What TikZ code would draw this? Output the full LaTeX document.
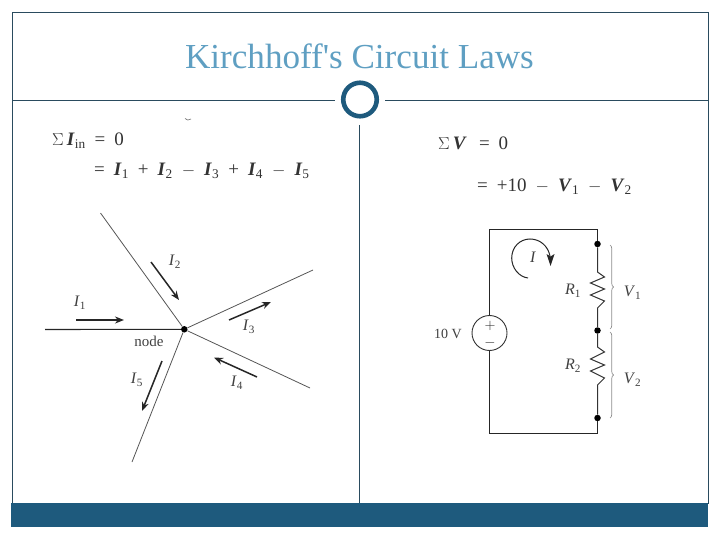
\documentclass[tikz,border=0pt]{standalone}
\usepackage{amsmath}
\usepackage{fontspec}
\setmainfont{Liberation Serif}
\usetikzlibrary{arrows.meta,decorations.pathreplacing}
\definecolor{barblue}{HTML}{1E5A7D}
\definecolor{framedark}{HTML}{2A4B5E}
\definecolor{titleblue}{HTML}{5F9FC2}
\definecolor{wiregray}{HTML}{555555}
\newcommand{\bv}[1]{\textbf{\textit{#1}}}
\newcommand{\iv}[2]{\textit{#1}\textsubscript{#2}}
\newcommand{\bsb}[2]{\textbf{\textit{#1}}\textsubscript{#2}}
\newcommand{\eqgap}{\hspace{9pt}}
\tikzset{
  x=1pt,y=-1pt,
  frameline/.style={draw=framedark,line width=0.9pt},
  wire/.style={draw=wiregray,line width=0.8pt},
  curarrow/.style={draw=black!85,line width=1.5pt,-{Stealth[length=9pt,width=7pt]}},
  junction/.style={circle,fill=black,inner sep=0pt,minimum size=6.5pt},
  lab/.style={inner sep=0pt,font=\fontsize{16}{18}\selectfont,text=black!75},
  eq/.style={inner sep=0pt,anchor=base west,font=\fontsize{19}{21}\selectfont,text=black!80},
  bracegray/.style={draw=black!45,line width=0.7pt,decorate,decoration={brace,amplitude=3.5pt}}
}
\begin{document}
\begin{tikzpicture}
\useasboundingbox (0,0) rectangle (720,540);
% frame and header
\draw[frameline] (12,12.5) rectangle (708,503);
\fill[barblue] (11,503) rectangle (708,527);
\node[inner sep=0pt,text=titleblue,font=\fontsize{35.1}{38}\selectfont] (title) at (359.5,56) {Kirchhoff\textquotesingle s Circuit Laws};
\coordinate (hl0) at (12,100); \coordinate (hl1) at (335,100);
\coordinate (hr0) at (385,100); \coordinate (hr1) at (708,100);
\draw[frameline] (hl0) -- (hl1);
\draw[frameline] (hr0) -- (hr1);
\node[circle,draw=barblue,line width=4.6pt,minimum size=33.5pt,inner sep=0pt] (ring) at (360,99.5) {};
\coordinate (div0) at (359.5,125); \coordinate (div1) at (359.5,503);
\draw[draw=framedark,line width=0.8pt] (div0) -- (div1);
% small mark
\draw[black!60,line width=0.6pt] (185,118.5) .. controls (186.5,120.5) and (189,120.5) .. (191,119);
% KCL equations
\node[eq] (kcla) at (52,146) {$\Sigma$\,\bsb{I}{in}\eqgap=\eqgap 0};
\node[eq] (kclb) at (94,176) {=\eqgap\bsb{I}{1}\eqgap+\eqgap\bsb{I}{2}\eqgap$-$\eqgap\bsb{I}{3}\eqgap+\eqgap\bsb{I}{4}\eqgap$-$\eqgap\bsb{I}{5}};
% KVL equations
\node[eq] (kvla) at (438,150) {$\Sigma$\,\bv{V}\,\eqgap=\eqgap 0};
\node[eq] (kvlb) at (477,192) {=\eqgap+10\eqgap$-$\eqgap\bsb{V}{1}\eqgap$-$\eqgap\bsb{V}{2}};
% KCL node
\node[junction] (nd) at (184.3,329.3) {};
\coordinate (w1) at (45,329.5); \coordinate (w2) at (100.5,213); \coordinate (w3) at (313,270);
\coordinate (w4) at (310,388); \coordinate (w5) at (132,462);
\draw[draw=black!85,line width=1.1pt] (w1) -- (nd);
\foreach \e in {w2,w3,w4,w5} \draw[wire] (\e) -- (nd);
\coordinate (a1s) at (76,320); \coordinate (a1e) at (124,320);
\coordinate (a2s) at (151,262); \coordinate (a2e) at (179,300);
\coordinate (a3s) at (229,320); \coordinate (a3e) at (271,302);
\coordinate (a4s) at (257,377); \coordinate (a4e) at (214,357.5);
\coordinate (a5s) at (162,361); \coordinate (a5e) at (142,411);
\foreach \n in {1,...,5} \draw[curarrow] (a\n s) -- (a\n e);
\node[lab] (l1) at (80,303) {\iv{I}{1}};
\node[lab] (l2) at (175,262) {\iv{I}{2}};
\node[lab] (l3) at (249,327) {\iv{I}{3}};
\node[lab] (l4) at (237,383) {\iv{I}{4}};
\node[lab] (l5) at (137,380) {\iv{I}{5}};
\node[lab,font=\fontsize{15}{17}\selectfont] (nodelab) at (149,341) {node};
% circuit
\node[circle,draw=black!80,line width=0.9pt,minimum size=35pt,inner sep=0pt] (src) at (489.5,333) {};
\node[inner sep=0pt,font=\fontsize{15}{15}\selectfont,text=black!85] (plus) at (490,325.5) {$+$};
\node[inner sep=0pt,font=\fontsize{15}{15}\selectfont,text=black!85] (minus) at (490,343) {$-$};
\coordinate (tl) at (489.5,229.5); \coordinate (tr) at (597.5,229.5);
\coordinate (bl) at (489.5,433.5); \coordinate (br) at (597.5,433.5);
\node[junction] (d1) at (597.5,244) {};
\node[junction] (d2) at (597.5,330.5) {};
\node[junction] (d3) at (597.5,418) {};
\coordinate (r1t) at (597.5,272); \coordinate (r1b) at (597.5,308);
\coordinate (r2t) at (597.5,347); \coordinate (r2b) at (597.5,385);
\draw[draw=black!85,line width=1pt] (src) -- (tl) -- (tr) -- (d1);
\draw[draw=black!85,line width=1pt] (src) -- (bl) -- (br) -- (d3);
\draw[draw=black!80,line width=1pt] (d1) -- (r1t)
  -- ++(7,5) -- ++(-14,6) -- ++(14,6) -- ++(-14,6) -- ++(14,6) -- ++(-7,7) -- (r1b) -- (d2);
\draw[draw=black!80,line width=1pt] (d2) -- (r2t)
  -- ++(7,5) -- ++(-14,7) -- ++(14,6) -- ++(-14,6) -- ++(14,7) -- ++(-7,7) -- (r2b) -- (d3);
\coordinate (b1t) at (610,245); \coordinate (b1b) at (610,329);
\coordinate (b2t) at (610,332); \coordinate (b2b) at (610,418);
\draw[bracegray] (b1t) -- (b1b);
\draw[bracegray] (b2t) -- (b2b);
\coordinate (loop) at (528,278);
\draw[draw=black!85,line width=1pt] (loop) .. controls (519,277) and (511.7,268) .. (511.7,258)
  .. controls (511.7,247) and (520,239) .. (530,239)
  .. controls (540,239) and (548,246) .. (550,256);
\coordinate (looptip) at (550.5,266);
\fill[black!85] (looptip) -- (546.5,254) -- (550.5,256.5) -- (554.5,254) -- cycle;
\node[lab] (li) at (533,257) {\textit{I}};
\node[lab] (r1) at (573,291) {\iv{R}{1}};
\node[lab] (r2) at (573,366) {\iv{R}{2}};
\node[lab] (v1) at (632.5,293) {\iv{V}{1}};
\node[lab] (v2) at (632.5,380) {\iv{V}{2}};
\node[lab,font=\fontsize{14}{16}\selectfont] (vs) at (448,334) {10 V};
\end{tikzpicture}
\end{document}
